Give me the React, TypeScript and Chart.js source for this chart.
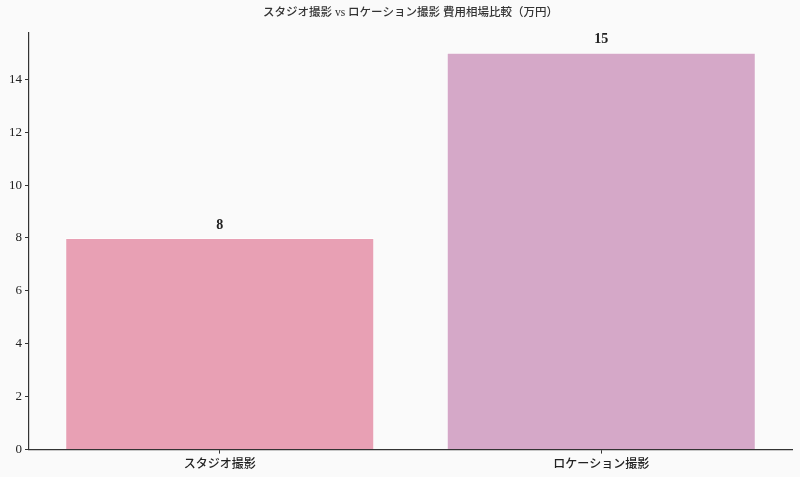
import { useEffect, useRef } from "react"
import { Chart, registerables } from "chart.js"

Chart.register(...registerables)

const categories = ["スタジオ撮影", "ロケーション撮影"]
const costs = [8, 15]
const barColors = ["#e8a0b4", "#d5a8c8"]
const yTicks = [0, 2, 4, 6, 8, 10, 12, 14]
const title = "スタジオ撮影 vs ロケーション撮影 費用相場比較（万円）"

const FONT = '"Liberation Serif", "Noto Sans CJK JP", serif'

// draws the value above each bar
const valueLabels = {
  id: "valueLabels",
  afterDatasetsDraw(chart: Chart) {
    const ctx = chart.ctx
    const meta = chart.getDatasetMeta(0)
    ctx.save()
    ctx.font = `bold 14px ${FONT}`
    ctx.fillStyle = "#222"
    ctx.textAlign = "center"
    ctx.textBaseline = "bottom"
    meta.data.forEach((bar: any, i: number) => {
      ctx.fillText(String(costs[i]), bar.x, bar.y - 6)
    })
    ctx.restore()
  },
}

// background + title centred over the plot area, like the reference
const background = {
  id: "background",
  beforeDraw(chart: Chart) {
    const ctx = chart.ctx
    ctx.save()
    ctx.fillStyle = "#fafafa"
    ctx.fillRect(0, 0, chart.width, chart.height)
    ctx.restore()
  },
  afterDraw(chart: Chart) {
    const ctx = chart.ctx
    const area = chart.chartArea
    ctx.save()
    ctx.font = `500 11.5px ${FONT}`
    ctx.fillStyle = "#333"
    ctx.textAlign = "center"
    ctx.textBaseline = "middle"
    ctx.fillText(title, (area.left + area.right) / 2, 13)
    ctx.restore()
  },
}

export default function App() {
  const chartRef = useRef<HTMLCanvasElement>(null)
  const chartInstance = useRef<Chart | null>(null)

  useEffect(() => {
    document.body.style.margin = "0"
    if (!chartRef.current) return
    if (chartInstance.current) chartInstance.current.destroy()
    const ctx = chartRef.current.getContext("2d")
    if (!ctx) return

    chartInstance.current = new Chart(ctx, {
      type: "bar",
      data: {
        labels: categories,
        datasets: [
          {
            data: costs,
            backgroundColor: barColors,
            borderColor: "rgba(255,255,255,0.5)",
            borderWidth: 1,
            barPercentage: 0.81,
            categoryPercentage: 1,
          },
        ],
      },
      options: {
        animation: false,
        responsive: true,
        maintainAspectRatio: false,
        layout: { padding: { top: 33, right: 8, left: 6, bottom: 1 } },
        scales: {
          x: {
            grid: {
              display: true,
              drawOnChartArea: false,
              offset: false,
              color: "#333",
              tickLength: 4,
            },
            border: { display: true, color: "#333", width: 1.2 },
            ticks: {
              color: "#222",
              font: { family: FONT, size: 12, weight: "500" },
              padding: 4,
            },
          },
          y: {
            min: 0,
            max: 15.75,
            afterBuildTicks(scale: any) {
              scale.ticks = yTicks.map((v) => ({ value: v }))
            },
            grid: {
              display: true,
              drawOnChartArea: false,
              color: "#333",
              tickLength: 4,
            },
            border: { display: true, color: "#333", width: 1.2 },
            ticks: {
              color: "#222",
              font: { family: FONT, size: 13 },
              padding: 3,
            },
          },
        },
        plugins: {
          legend: { display: false },
          tooltip: { enabled: false },
          title: { display: false },
        },
      },
      plugins: [background, valueLabels],
    })

    return () => {
      if (chartInstance.current) {
        chartInstance.current.destroy()
        chartInstance.current = null
      }
    }
  }, [])

  return (
    <div style={{ width: 800, height: 477, position: "relative" }}>
      <canvas ref={chartRef} />
    </div>
  )
}
